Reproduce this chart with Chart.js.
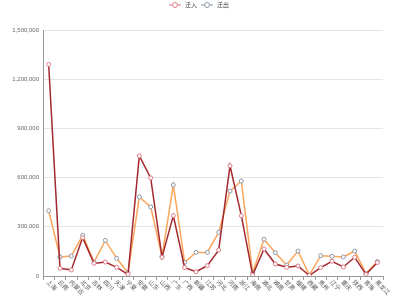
<!DOCTYPE html>
<html lang="zh">
<head>
  <meta charset="UTF-8" />
  <title>迁入 / 迁出</title>
  <script src="https://cdn.jsdelivr.net/npm/chart.js"></script>
  <style>
    body { margin: 0; background: #fff; }
    #wrap { width: 400px; height: 300px; }
  </style>
</head>
<body>
  <div id="wrap"><canvas id="chart" width="400" height="300"></canvas></div>

  <script>
    // provinces, sorted as in the source
    const provinces = ['上海', '云南', '内蒙古', '北京', '吉林', '四川', '天津', '宁夏', '安徽', '山东',
      '山西', '广东', '广西', '新疆', '江苏', '河北', '河南', '浙江', '海南', '湖北',
      '湖南', '甘肃', '福建', '西藏', '贵州', '辽宁', '重庆', '陕西', '青海', '黑龙江'];

    const seriesNames = ['迁入', '迁出'];

    const inflow = [1290000, 47000, 37000, 234000, 77000, 85000, 53000, 10000, 732000, 598000,
      115000, 368000, 51000, 26000, 63000, 158000, 672000, 368000, 6000, 165000,
      73000, 53000, 61000, 3000, 51000, 90000, 55000, 114000, 10000, 82000];

    const outflow = [398000, 116000, 122000, 248000, 85000, 217000, 108000, 20000, 482000, 421000,
      120000, 555000, 83000, 144000, 144000, 266000, 518000, 579000, 20000, 224000,
      142000, 67000, 152000, 5000, 124000, 120000, 116000, 152000, 15000, 88000];

    const yMax = 1500000;
    const yStep = 300000;

    const lineColors = ['#a3282f', '#fba65b'];
    const pointColors = ['#e07b86', '#8d99a8'];

    // rotated category labels + legend drawn by hand
    const extras = {
      id: 'extras',
      afterDraw(chart) {
        const ctx = chart.ctx;
        const x = chart.scales.x;
        ctx.save();
        ctx.fillStyle = '#555';
        ctx.font = '6px "Noto Sans CJK SC"';
        ctx.textAlign = 'left';
        ctx.textBaseline = 'middle';
        provinces.forEach((p, i) => {
          const px = x.getPixelForValue(i);
          ctx.save();
          ctx.translate(px - 1, x.top + 5);
          ctx.rotate(Math.PI / 4);
          ctx.fillText(p, 0, 0);
          ctx.restore();
        });

        // legend
        let lx = 169;
        const ly = 5;
        seriesNames.forEach((name, i) => {
          ctx.strokeStyle = pointColors[i];
          ctx.lineWidth = 1;
          ctx.beginPath();
          ctx.moveTo(lx, ly);
          ctx.lineTo(lx + 12, ly);
          ctx.stroke();
          ctx.beginPath();
          ctx.arc(lx + 6, ly, 2.5, 0, Math.PI * 2);
          ctx.fillStyle = '#fff';
          ctx.fill();
          ctx.stroke();
          ctx.fillStyle = '#444';
          ctx.font = '6px "Noto Sans CJK SC"';
          ctx.fillText(name, lx + 16, ly);
          lx += 32;
        });
        ctx.restore();
      }
    };

    new Chart(document.getElementById('chart').getContext('2d'), {
      type: 'line',
      data: {
        labels: provinces,
        datasets: [inflow, outflow].map((d, i) => ({
          label: seriesNames[i],
          data: d,
          borderColor: lineColors[i],
          borderWidth: 1.5,
          pointBackgroundColor: '#fff',
          pointBorderColor: pointColors[i],
          pointBorderWidth: 1,
          pointRadius: 2,
          tension: 0,
          fill: false
        }))
      },
      options: {
        responsive: false,
        animation: false,
        layout: { padding: { top: 30, right: 17, left: 0, bottom: 0 } },
        plugins: { legend: { display: false }, tooltip: { enabled: false } },
        scales: {
          x: {
            offset: true,
            grid: { offset: true, drawOnChartArea: false, tickLength: 4, color: '#999' },
            border: { color: '#999' },
            ticks: { display: false },
            afterFit(s) { s.height = 24; }
          },
          y: {
            min: 0,
            max: yMax,
            ticks: {
              stepSize: yStep,
              color: '#666',
              padding: 4,
              font: { size: 6, family: 'Arial' },
              callback: v => v.toLocaleString('en-US')
            },
            grid: { color: '#e4e4e4', drawTicks: false },
            border: { color: '#999' },
            afterFit(s) { s.width = 43; }
          }
        }
      },
      plugins: [extras]
    });
  </script>
</body>
</html>
